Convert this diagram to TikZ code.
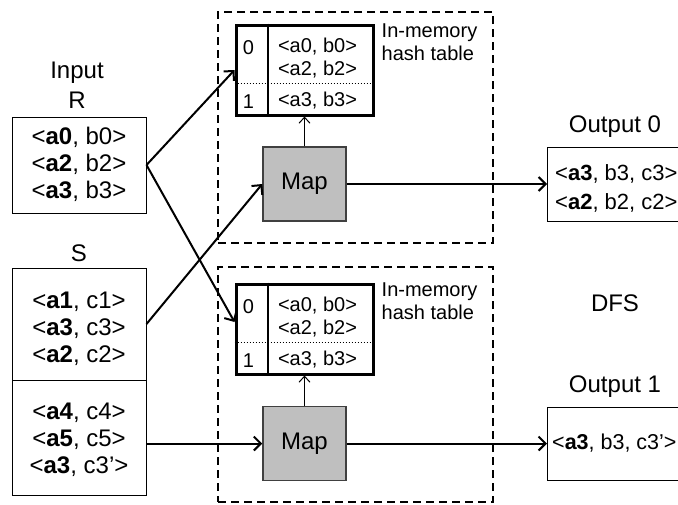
\documentclass[tikz,border=0pt]{standalone}
\usepackage{fontspec}
\setmainfont{Liberation Sans}
\usetikzlibrary{arrows.meta}

\begin{document}
\begin{tikzpicture}[x=1pt,y=-1pt,
  big/.style={font=\fontsize{24}{27}\selectfont},
  mid/.style={font=\fontsize{22}{29}\selectfont},
  small/.style={font=\fontsize{20}{23}\selectfont},
  txt/.style={inner sep=0pt,align=center},
  relbox/.style={draw,line width=1pt,inner sep=0pt,minimum width=134pt},
  zone/.style={draw,line width=1.6pt,dash pattern=on 8pt off 5pt},
  hashbox/.style={draw,line width=3pt,inner sep=0pt,minimum width=137pt},
  mapbox/.style={draw=black!75,line width=1.5pt,fill=black!25,inner sep=0pt,
    minimum width=83pt,minimum height=74pt,big},
  outbox/.style={draw,line width=1pt,inner sep=0pt,minimum width=160pt,anchor=west},
  flow/.style={line width=2pt,-{Straight Barb[length=7pt,width=14pt,line width=2pt]}},
  feed/.style={line width=1pt,-{Straight Barb[length=6pt,width=11pt,line width=1pt]}},
]
\useasboundingbox (0,0) rectangle (678,504);
\clip (0,0) rectangle (678,504);

% ---------- inputs ----------
\node[txt,big] (inlbl) at (77,73) {Input};
\node[txt,big] (rlbl) at (77,100) {R};
\node[relbox,minimum height=96pt] (rbox) at (79,165) {};
\node[txt,big] (rtxt) at (79,164.5) {<\textbf{a0}, b0>\\<\textbf{a2}, b2>\\<\textbf{a3}, b3>};

\node[txt,big] (slbl) at (79,253) {S};
\node[relbox,minimum height=112pt] (s1box) at (79,324) {};
\node[relbox,minimum height=115pt] (s2box) at (79,437.5) {};
\node[txt,big] (s1txt) at (79,329) {<\textbf{a1}, c1>\\<\textbf{a3}, c3>\\<\textbf{a2}, c2>};
\node[txt,big] (s2txt) at (79,440) {<\textbf{a4}, c4>\\<\textbf{a5}, c5>\\<\textbf{a3}, c3’>};

% ---------- worker zones ----------
\node[zone,minimum width=275pt,minimum height=231pt,inner sep=0pt] (zone0) at (355.5,127.5) {};
\node[zone,minimum width=275pt,minimum height=235pt,inner sep=0pt] (zone1) at (355.5,384.5) {};

% ---------- hash tables: bucket column, dotted bucket split, entries ----------
\foreach \i/\yc in {0/70,1/329} {
  \node[hashbox,minimum height=90pt] (ht\i) at (304.5,\yc) {};
  \draw[line width=2pt] ([xshift=33pt]ht\i.north west) -- ([xshift=33pt]ht\i.south west);
  \draw[line width=1pt,dotted] ([yshift=33pt]ht\i.south west) -- ([yshift=33pt]ht\i.south east);
  \node[txt,small] (hk0\i) at ([shift={(14pt,-24pt)}]ht\i.north west) {0};
  \node[txt,small] (hk1\i) at ([shift={(14pt,15pt)}]ht\i.south west) {1};
  \node[txt,small] (hv0\i) at ([shift={(83pt,-34.5pt)}]ht\i.north west) {<a0, b0>\\<a2, b2>};
  \node[txt,small] (hv1\i) at ([shift={(83pt,16pt)}]ht\i.south west) {<a3, b3>};
  \node[txt,small,align=left,anchor=north west] (hlbl\i) at ([shift={(147pt,0pt)}]ht\i.north west) {In-memory\\hash table};
}

% ---------- map tasks ----------
\node[mapbox] (map0) at (304.5,184) {Map};
\node[mapbox] (map1) at (304.5,443.5) {Map};
\draw[feed] (map0.north) -- (ht0.south);
\draw[feed] (map1.north) -- (ht1.south);

% ---------- outputs ----------
\node[txt,big] (o0lbl) at (615,127) {Output 0};
\node[outbox,minimum height=74pt] (o0box) at (547,184) {};
\node[txt,mid,align=left,anchor=west] (o0txt) at (555,188.5) {<\textbf{a3}, b3, c3>\\<\textbf{a2}, b2, c2>};

\node[txt,big] (dfs) at (615,303) {DFS};

\node[txt,big] (o1lbl) at (615,387) {Output 1};
\node[outbox,minimum height=73pt] (o1box) at (547,443.5) {};
\node[txt,anchor=west,font=\fontsize{21.5}{26}\selectfont] (o1txt) at (552,443.5) {<\textbf{a3}, b3, c3’>};

% ---------- data flow ----------
\draw[flow] (rbox.east) -- (ht0.west);
\draw[flow] (rbox.east) -- ([yshift=7pt]ht1.west);
\draw[flow] (s1box.east) -- (map0.west);
\draw[flow] (s2box.east |- map1.west) -- (map1.west);
\draw[flow] (map0.east) -- (o0box.west);
\draw[flow] (map1.east) -- (o1box.west);
\end{tikzpicture}
\end{document}
